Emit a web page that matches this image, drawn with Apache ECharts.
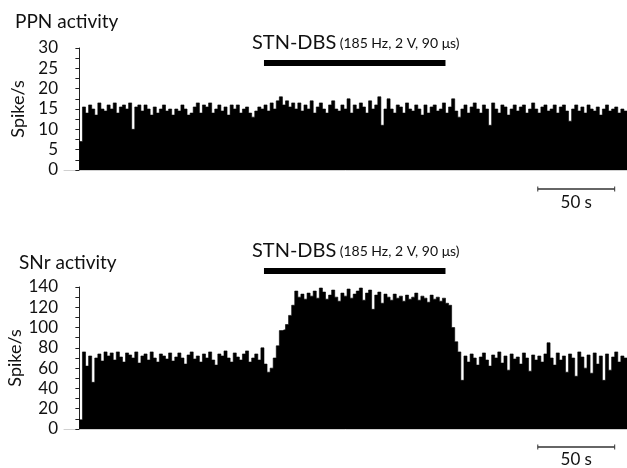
<!DOCTYPE html>
<html><head><meta charset="utf-8">
<script src="https://cdn.jsdelivr.net/npm/echarts/dist/echarts.min.js"></script>
<style>html,body{margin:0;padding:0;background:#fff}#c{width:627px;height:468px}</style>
</head><body><div id="c"></div>
<script>
// Bin width (s) of the rate histograms
const binWidth = 2;
// Stimulation period (s) and scale bar (s)
const stimPeriod = [120, 238];
const scaleBar = [298, 348];
const scaleLabel = '50 s';
const panelTitles = ['PPN activity', 'SNr activity'];
const yTicksPPN = [0, 5, 10, 15, 20, 25, 30];
const yTicksSNr = [0, 20, 40, 60, 80, 100, 120, 140];

// PPN firing rate (spike/s), one value per 2-s bin
const ppnRate = [
  7, 15.5, 14, 16, 15, 13.5, 16.5, 15, 14.5, 16,
  15, 16.5, 14, 15.5, 16, 15, 16.5, 10, 15.5, 16,
  14.5, 16, 15, 13.5, 15.5, 14, 15, 16, 14.5, 15,
  13.5, 15, 14.5, 16, 15, 13.5, 14, 15.5, 16.5, 14,
  16, 15.5, 16.5, 14, 15, 16, 14.5, 15.5, 13.5, 16,
  15, 16, 14, 15, 15.5, 14, 13, 14.5, 15.5, 15,
  16, 14.5, 16.5, 15, 17, 18, 16, 17, 15.5, 16.5,
  15, 16.5, 14.5, 16, 15, 17, 14, 15.5, 16.5, 15,
  14, 16, 17, 15, 14.5, 16, 15, 17.5, 14, 16,
  15, 16.5, 15.5, 14, 17, 15, 16, 18, 11, 15,
  17.5, 15, 14, 16, 15.5, 14, 16.5, 15, 14.5, 16,
  15, 13.5, 16, 14, 15.5, 16, 14.5, 15, 16.5, 14,
  15.5, 17.5, 14.5, 13, 15, 16, 14, 15.5, 16.5, 15,
  14, 16, 15, 11, 16.5, 15, 14, 16, 15.5, 13.5,
  15, 16, 14.5, 15.5, 16, 14, 15, 16.5, 15, 14,
  15.5, 16, 14.5, 15, 16, 14, 15.5, 16, 14.5, 12,
  15, 16, 14.5, 15.5, 14, 16, 15, 14.5, 15.5, 13.5,
  15, 16, 14.5, 15, 15.5, 14, 15, 14.5
];

// SNr firing rate (spike/s), one value per 2-s bin
const snrRate = [
  9, 76, 62, 72, 46, 70, 74, 67, 76, 72,
  75, 68, 76, 71, 66, 75, 73, 70, 76, 65,
  72, 74, 68, 76, 70, 66, 74, 72, 69, 75,
  67, 71, 75, 70, 64, 73, 76, 69, 72, 66,
  74, 70, 76, 68, 63, 74, 72, 77, 70, 66,
  75, 71, 68, 74, 77, 66, 70, 74, 68, 80,
  64, 56, 60, 70, 82, 97, 98, 103, 112, 122,
  136, 130, 133, 128, 134, 131, 136, 129, 139, 135,
  128, 132, 137, 130, 126, 134, 131, 138, 129, 133,
  136, 139, 127, 134, 137, 118, 132, 135, 124, 133,
  130, 127, 133, 129, 131, 126, 132, 128, 130, 134,
  127, 131, 129, 125, 132, 128, 130, 126, 129, 124,
  122, 100, 86, 76, 48, 72, 66, 74, 70, 63,
  71, 75, 68, 62, 73, 70, 76, 65, 72, 58,
  74, 69, 71, 64, 75, 70, 57, 73, 68, 72,
  66, 74, 85, 70, 63, 75, 68, 72, 56, 74,
  70, 52, 76, 71, 60, 73, 55, 75, 64, 72,
  48, 74, 58, 71, 76, 66, 72, 70
];

function toSteps(rates) {
  const pts = rates.map((v, i) => [i * binWidth, v]);
  pts.push([rates.length * binWidth, rates[rates.length - 1]]);
  return pts;
}

const FONT = 'Lato';
const chart = echarts.init(document.getElementById('c'), null, {renderer: 'canvas'});

function yAxisCfg(ticks, gridIndex, nameGap) {
  return {
    type: 'value', gridIndex,
    min: ticks[0], max: ticks[ticks.length - 1], interval: ticks[1] - ticks[0],
    name: 'Spike/s', nameLocation: 'middle', nameGap, nameMoveOverlap: false,
    nameTextStyle: {fontFamily: FONT, fontSize: 18, color: '#111'},
    axisLine: {show: true, lineStyle: {color: '#222', width: 1}},
    axisTick: {show: true, length: 4, lineStyle: {color: '#222'}},
    minorTick: {show: true, splitNumber: 2, length: 4, lineStyle: {color: '#222'}},
    axisLabel: {fontFamily: FONT, fontSize: 17, color: '#111', margin: 6},
    splitLine: {show: false}
  };
}
function xAxisCfg(gridIndex) {
  return {
    type: 'value', gridIndex, min: -10, max: 356,
    axisLine: {show: true, lineStyle: {color: '#d0d0d0', width: 1}},
    axisTick: {show: false}, axisLabel: {show: false}, splitLine: {show: false}
  };
}
function histSeries(rates, idx) {
  return {
    type: 'line', xAxisIndex: idx, yAxisIndex: idx, step: 'end',
    symbol: 'none',
    lineStyle: {color: '#000', width: 0.6},
    areaStyle: {color: '#000', opacity: 1},
    data: toSteps(rates)
  };
}

chart.setOption({
  animation: false,
  backgroundColor: '#fff',
  title: [
    {text: panelTitles[0], left: 10, top: 7, textStyle: {fontFamily: FONT, fontSize: 19, fontWeight: 'normal', color: '#111'}},
    {text: panelTitles[1], left: 14, top: 248, textStyle: {fontFamily: FONT, fontSize: 19, fontWeight: 'normal', color: '#111'}}
  ],
  grid: [
    {left: 64, right: 0, top: 48, height: 122, containLabel: false, outerBoundsMode: 'none'},
    {left: 64, right: 0, top: 287, height: 142, containLabel: false, outerBoundsMode: 'none'}
  ],
  xAxis: [xAxisCfg(0), xAxisCfg(1)],
  yAxis: [yAxisCfg(yTicksPPN, 0, 37), yAxisCfg(yTicksSNr, 1, 40)],
  series: [histSeries(ppnRate, 0), histSeries(snrRate, 1)]
});

// Annotations positioned through the axes' scales
function px(grid, t, v) { return chart.convertToPixel({gridIndex: grid}, [t, v]); }
const gfx = [];
[0, 1].forEach(g => {
  const gridBottom = px(g, 0, 0)[1];
  const gridTop = px(g, 0, g === 0 ? 30 : 140)[1];
  const a = px(g, stimPeriod[0], 0)[0], b = px(g, stimPeriod[1], 0)[0];
  const barY = g === 0 ? gridTop + 12 : gridTop - 19;
  gfx.push({type: 'rect', shape: {x: a, y: barY, width: b - a, height: 6}, style: {fill: '#000'}});
  gfx.push({type: 'text', x: a - 12, y: barY - 7, style: {
    text: '{a|STN-DBS} {b|(185 Hz, 2 V, 90 μs)}', verticalAlign: 'bottom',
    rich: {a: {fontFamily: FONT, fontSize: 20, fill: '#111'}, b: {fontFamily: FONT, fontSize: 14, fill: '#111'}}
  }});
  const s0 = px(g, scaleBar[0], 0)[0], s1 = px(g, scaleBar[1], 0)[0];
  const sy = gridBottom + (g === 0 ? 19 : 18);
  gfx.push({type: 'line', shape: {x1: s0, y1: sy, x2: s1, y2: sy}, style: {stroke: '#333', lineWidth: 1.5}});
  gfx.push({type: 'line', shape: {x1: s0, y1: sy - 2.5, x2: s0, y2: sy + 2.5}, style: {stroke: '#333', lineWidth: 1}});
  gfx.push({type: 'line', shape: {x1: s1, y1: sy - 2.5, x2: s1, y2: sy + 2.5}, style: {stroke: '#333', lineWidth: 1}});
  gfx.push({type: 'text', x: (s0 + s1) / 2, y: sy + (g === 0 ? 5 : 4), style: {
    text: scaleLabel, fontFamily: FONT, fontSize: 17, fill: '#111', align: 'center', verticalAlign: 'top'
  }});
});
chart.setOption({graphic: gfx});
</script>
</body></html>
